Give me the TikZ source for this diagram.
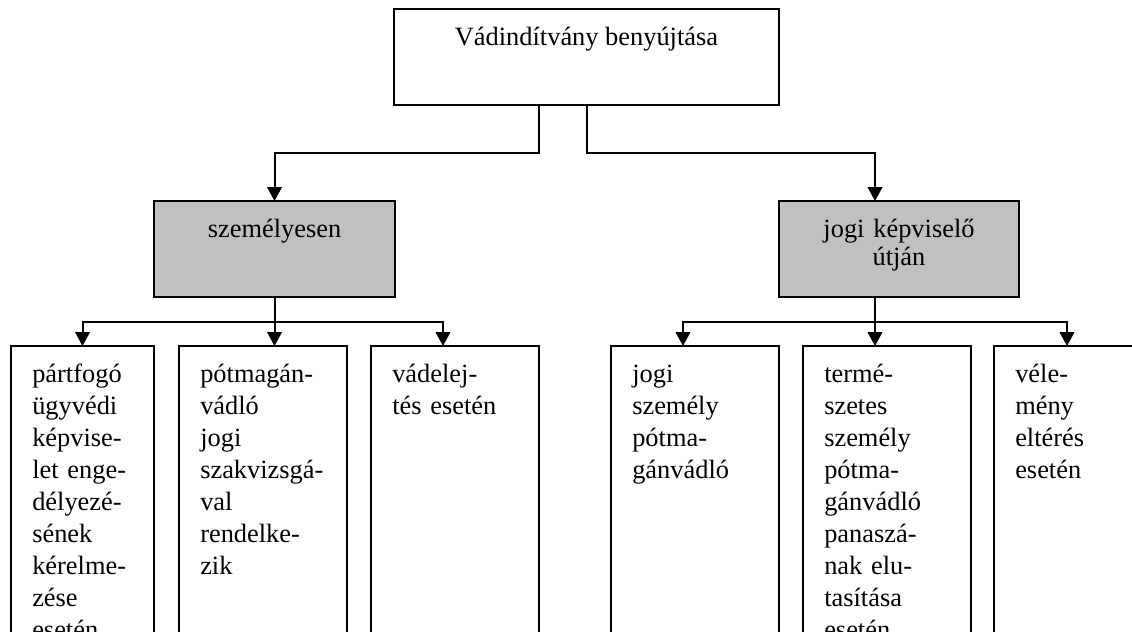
\documentclass[tikz,border=0pt]{standalone}
\usepackage{fontspec}
\setmainfont{Liberation Serif}
\usetikzlibrary{arrows.meta,calc}
\definecolor{boxgray}{RGB}{192,192,192}
\begin{document}
\begin{tikzpicture}[x=0.75pt,y=-0.75pt,
  box/.style={draw=black, line width=1.5pt, fill=white, anchor=north west,
              inner sep=0pt, outer sep=0pt},
  graybox/.style={box, fill=boxgray},
  tall/.style={box, minimum height=265.5pt},
  link/.style={draw=black, line width=1.5pt},
  arr/.style={link, -{Triangle[length=10.5pt,width=11pt]}},
  headtext/.style={font=\fontsize{19.8pt}{21pt}\selectfont, inner sep=0pt, anchor=base},
  bodytext/.style={font=\fontsize{19.8pt}{24pt}\selectfont, inner sep=0pt,
                   anchor=base west, align=left, text width=108pt},
]
\useasboundingbox (0,0) rectangle (1132,632);
\clip (0,0) rectangle (1132,632);

% --- boxes ---
\node[box, minimum width=288.75pt, minimum height=72pt] (top) at (394,9) {};
\node[graybox, minimum width=180.75pt, minimum height=72pt] (gl) at (154,201) {};
\node[graybox, minimum width=180pt, minimum height=72pt] (gr) at (779,201) {};

\node[tall, minimum width=107.25pt] (b1) at (11,346) {};
\node[tall, minimum width=126pt] (b2) at (179,346) {};
\node[tall, minimum width=126pt] (b3) at (371,346) {};
\node[tall, minimum width=126pt] (b4) at (611,346) {};
\node[tall, minimum width=126pt] (b5) at (803,346) {};
\node[tall, minimum width=126pt] (b6) at (994,346) {};

% --- labels ---
\node[headtext] (ttop) at ($(top.north)+(0,-27pt)$) {Vádindítvány benyújtása};
\node[headtext] (tgl) at ($(gl.north)+(0,-27pt)$) {személyesen};
\node[headtext, align=center, text width=170pt] (tgr) at ($(gr.north)+(0,-27pt)$)
  {jogi képviselő\\útján};

\node[bodytext] (t1) at ($(b1.north west)+(15.75pt,-27pt)$)
  {pártfogó\\ügyvédi\\képvise-\\let enge-\\délyezé-\\sének\\kérelme-\\zése\\esetén};
\node[bodytext] (t2) at ($(b2.north west)+(15.75pt,-27pt)$)
  {pótmagán-\\vádló\\jogi\\szakvizsgá-\\val\\rendelke-\\zik};
\node[bodytext] (t3) at ($(b3.north west)+(15.75pt,-27pt)$)
  {vádelej-\\tés esetén};
\node[bodytext] (t4) at ($(b4.north west)+(15.75pt,-27pt)$)
  {jogi\\személy\\pótma-\\gánvádló};
\node[bodytext] (t5) at ($(b5.north west)+(15.75pt,-27pt)$)
  {termé-\\szetes\\személy\\pótma-\\gánvádló\\panaszá-\\nak elu-\\tasítása\\esetén};
\node[bodytext] (t6) at ($(b6.north west)+(15.75pt,-27pt)$)
  {véle-\\mény\\eltérés\\esetén};

% --- connectors from the top box ---
\draw[arr] ([xshift=-35.6pt]top.south) -- ++(0,-36pt) -| (gl.north);
\draw[arr] ([xshift=0.4pt]top.south) -- ++(0,-36pt) -| ([xshift=-18pt]gr.north);

% --- left branch ---
\coordinate (jl) at ($(gl.south)+(0,-18.75pt)$);
\draw[link] (gl.south) -- (jl);
\draw[arr] (jl) -| (b1.north);
\draw[arr] (jl) -- (jl |- b2.north);
\draw[arr] (jl) -| ([xshift=-9pt]b3.north);

% --- right branch ---
\coordinate (jr) at ($(gr.south)+(-18pt,-18.75pt)$);
\draw[link] ([xshift=-18pt]gr.south) -- (jr);
\draw[arr] (jr) -| ([xshift=-9pt]b4.north);
\draw[arr] (jr) -- (jr |- b5.north);
\draw[arr] (jr) -| ([xshift=-8.25pt]b6.north);
\end{tikzpicture}
\end{document}
